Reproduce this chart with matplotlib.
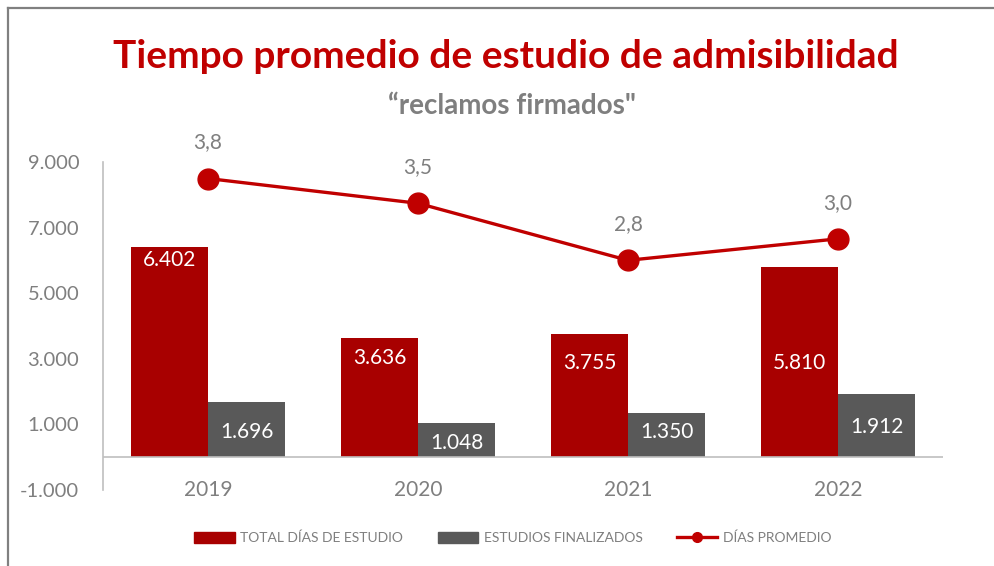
import numpy as np
import matplotlib.pyplot as plt
from matplotlib.lines import Line2D
from matplotlib.patches import Patch

plt.rcParams['font.family'] = ['Lato', 'DejaVu Sans']

# data
years = ['2019', '2020', '2021', '2022']
total_dias = [6402, 3636, 3755, 5810]
estudios_fin = [1696, 1048, 1350, 1912]
dias_promedio = [3.77, 3.47, 2.78, 3.04]

# where the value labels sit inside the bars (data units)
total_label_y = [6010, 3020, 2870, 2870]
fin_label_y = [770, 435, 770, 920]

RED_BAR = '#A80000'
GREY_BAR = '#595959'
RED_LINE = '#C00000'
TXT = '#7F7F7F'

def miles(v):
    return '{:,.0f}'.format(v).replace(',', '.')

fig = plt.figure(figsize=(9.94, 5.66), dpi=100)
ax = fig.add_axes([0.1036, 0.1343, 0.8451, 0.5795])

x = np.arange(len(years))
w = 0.367
ax.bar(x - w/2, total_dias, w, color=RED_BAR, zorder=2)
ax.bar(x + w/2, estudios_fin, w, color=GREY_BAR, zorder=2)

for i in range(len(years)):
    ax.text(x[i] - w/2, total_label_y[i], miles(total_dias[i]), ha='center', va='center',
            color='white', fontsize=15)
    ax.text(x[i] + w/2, fin_label_y[i], miles(estudios_fin[i]), ha='center', va='center',
            color='white', fontsize=15)
    ax.text(x[i], -1000, years[i], ha='center', va='center', color=TXT, fontsize=15)

ax.set_xlim(-0.5, 3.5)
ax.set_ylim(-1000, 9000)
ax.set_yticks([-1000, 1000, 3000, 5000, 7000, 9000])
ax.set_yticklabels([miles(t) for t in [-1000, 1000, 3000, 5000, 7000, 9000]])
ax.tick_params(axis='y', length=0, pad=17, labelsize=14.5, labelcolor=TXT)
ax.set_xticks([])
ax.axhline(0, color='#BFBFBF', lw=1.2, zorder=3)
for s in ['top', 'right', 'bottom']:
    ax.spines[s].set_visible(False)
ax.spines['left'].set_color('#BFBFBF')
ax.spines['left'].set_linewidth(1.2)

ax2 = ax.twinx()
ax2.plot(x, dias_promedio, color=RED_LINE, lw=2.4, marker='o', markersize=15, zorder=4)
for i in range(len(years)):
    ax2.annotate('{:.1f}'.format(dias_promedio[i]).replace('.', ','), (x[i], dias_promedio[i]),
                 xytext=(0, 26), textcoords='offset points', ha='center', va='center',
                 color=TXT, fontsize=15)
ax2.set_ylim(0, 3.97)
ax2.axis('off')

fig.text(0.509, 0.9, 'Tiempo promedio de estudio de admisibilidad', ha='center', va='center',
         color=RED_LINE, fontsize=28, fontweight='bold')
fig.text(0.515, 0.813, '\u201creclamos firmados"', ha='center', va='center',
         color=TXT, fontsize=20, fontweight='bold')

handles = [Patch(color=RED_BAR), Patch(color=GREY_BAR),
           Line2D([], [], color=RED_LINE, lw=2.4, marker='o', markersize=7)]
labels = ['TOTAL DÍAS DE ESTUDIO', 'ESTUDIOS FINALIZADOS', 'DÍAS PROMEDIO']
leg = fig.legend(handles, labels, loc='center', bbox_to_anchor=(0.516, 0.0495), ncol=3,
                 frameon=False, fontsize=10, handlelength=2.9, handleheight=0.9,
                 handletextpad=0.4, columnspacing=2.5)
for t in leg.get_texts():
    t.set_color(TXT)

# grey frame on top and left edge
fig.add_artist(Line2D([0.008, 1.0], [0.986, 0.986], color='#808080', lw=1.6))
fig.add_artist(Line2D([0.008, 0.008], [0.0, 0.986], color='#808080', lw=1.6))

fig.savefig('out.png', dpi=100)
